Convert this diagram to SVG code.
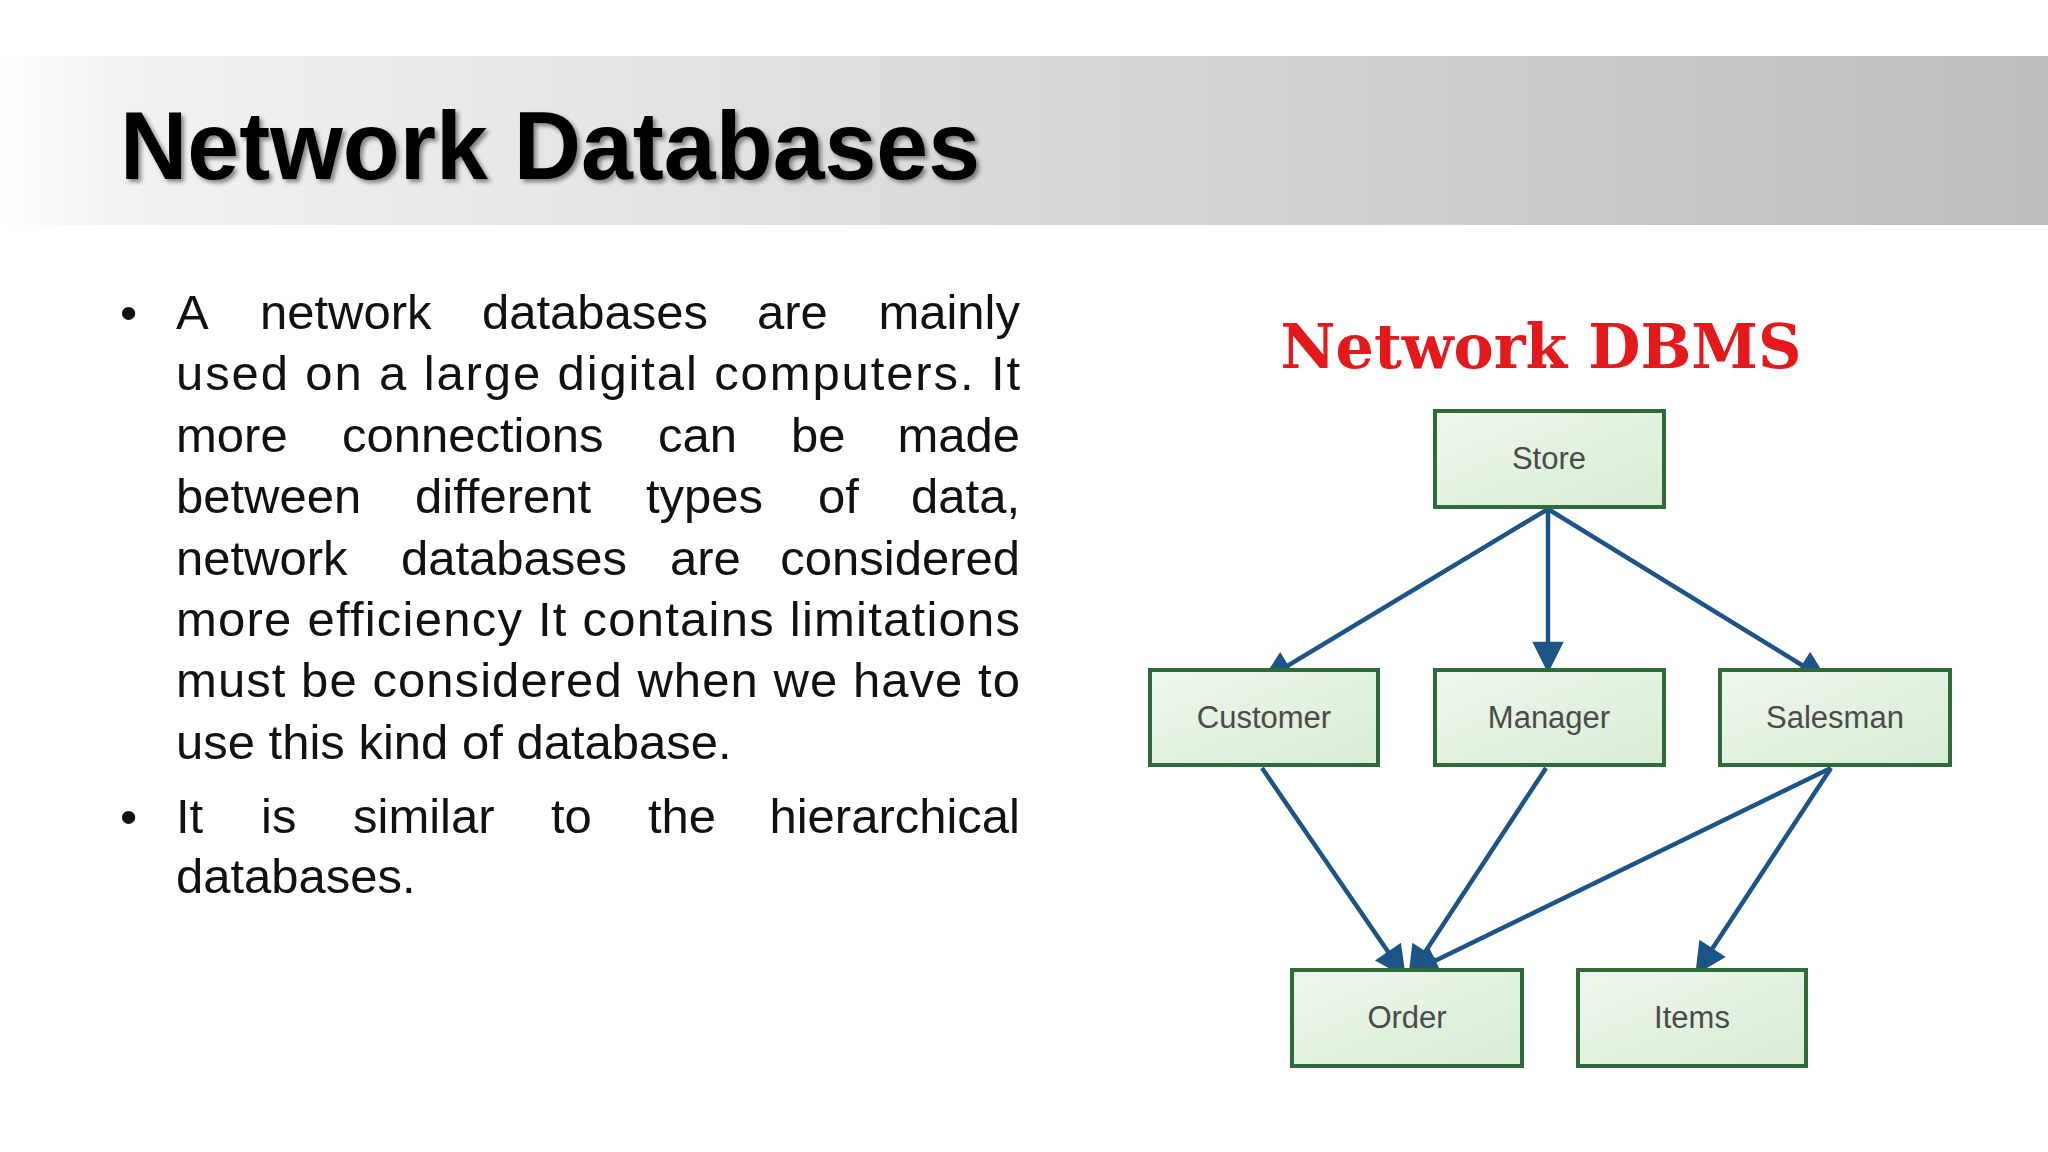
<svg xmlns="http://www.w3.org/2000/svg" width="2048" height="1152" viewBox="0 0 2048 1152">
<defs>
<linearGradient id="hdr" x1="0" y1="0" x2="1" y2="0">
<stop offset="0" stop-color="#ffffff"/><stop offset="0.06" stop-color="#f2f2f2"/><stop offset="1" stop-color="#bdbdbd"/>
</linearGradient>
<linearGradient id="box" x1="0" y1="0" x2="1" y2="1">
<stop offset="0" stop-color="#eef7ec"/><stop offset="1" stop-color="#d8ecd4"/>
</linearGradient>
<filter id="sh" x="-5%" y="-20%" width="110%" height="140%"><feDropShadow dx="3" dy="3" stdDeviation="2" flood-color="#000" flood-opacity="0.45"/></filter>
<marker id="ah" viewBox="0 0 10 10" refX="9" refY="5" markerWidth="8" markerHeight="7" markerUnits="strokeWidth" orient="auto"><path d="M0,0 L10,5 L0,10 z" fill="#1d5488"/></marker>
<style>
.body{font-family:"Liberation Sans",Arial,sans-serif;font-size:49px;fill:#111}
.lbl{font-family:"Liberation Sans",Arial,sans-serif;font-size:31px;fill:#4a4a4a;text-anchor:middle}
.bx{fill:url(#box);stroke:#2e6a3a;stroke-width:4}
.cn{stroke:#1d5488;stroke-width:4.5;fill:none;marker-end:url(#ah)}
</style>
</defs>
<rect x="0" y="0" width="2048" height="1152" fill="#fff"/>
<rect x="0" y="56" width="2048" height="169" fill="url(#hdr)"/>
<text x="120" y="179" font-family="Liberation Sans,Arial,sans-serif" font-weight="bold" font-size="96" textLength="860" lengthAdjust="spacingAndGlyphs" filter="url(#sh)">Network Databases</text>

<g class="body">
<text x="120" y="329">•</text>
<text x="176" y="329">A</text><text x="260" y="329">network</text><text x="482" y="329">databases</text><text x="757" y="329">are</text><text x="1020" y="329" text-anchor="end">mainly</text>
<text x="176" y="390" textLength="844" lengthAdjust="spacing">used on a large digital computers. It</text>
<text x="176" y="452">more</text><text x="342" y="452">connections</text><text x="658" y="452">can</text><text x="791" y="452">be</text><text x="1020" y="452" text-anchor="end">made</text>
<text x="176" y="513">between</text><text x="415" y="513">different</text><text x="646" y="513">types</text><text x="818" y="513">of</text><text x="1020" y="513" text-anchor="end">data,</text>
<text x="176" y="575">network</text><text x="401" y="575">databases</text><text x="670" y="575">are</text><text x="1020" y="575" text-anchor="end">considered</text>
<text x="176" y="636" textLength="844" lengthAdjust="spacing">more efficiency It contains limitations</text>
<text x="176" y="697" textLength="844" lengthAdjust="spacing">must be considered when we have to</text>
<text x="176" y="759">use this kind of database.</text>
<text x="120" y="833">•</text>
<text x="176" y="833">It</text><text x="261" y="833">is</text><text x="353" y="833">similar</text><text x="551" y="833">to</text><text x="648" y="833">the</text><text x="1020" y="833" text-anchor="end">hierarchical</text>
<text x="176" y="893">databases.</text>
</g>

<text x="1541" y="368" text-anchor="middle" font-family="DejaVu Serif,serif" font-weight="bold" font-size="62" fill="#e3191c" textLength="521" lengthAdjust="spacingAndGlyphs">Network DBMS</text>

<g id="connectors">
<line class="cn" x1="1548" y1="509" x2="1264" y2="680"/>
<line class="cn" x1="1548" y1="509" x2="1548" y2="670"/>
<line class="cn" x1="1548" y1="509" x2="1826" y2="680"/>
<line class="cn" x1="1262" y1="768" x2="1404" y2="975"/>
<line class="cn" x1="1546" y1="768" x2="1410" y2="975"/>
<line class="cn" x1="1831" y1="768" x2="1410" y2="973"/>
<line class="cn" x1="1831" y1="768" x2="1697" y2="972"/>
</g>

<g id="store"><rect class="bx" x="1435" y="411" width="229" height="96"/><text class="lbl" x="1549" y="469">Store</text></g>
<g id="customer"><rect class="bx" x="1150" y="670" width="228" height="95"/><text class="lbl" x="1264" y="728">Customer</text></g>
<g id="manager"><rect class="bx" x="1435" y="670" width="229" height="95"/><text class="lbl" x="1549" y="728">Manager</text></g>
<g id="salesman"><rect class="bx" x="1720" y="670" width="230" height="95"/><text class="lbl" x="1835" y="728">Salesman</text></g>
<g id="order"><rect class="bx" x="1292" y="970" width="230" height="96"/><text class="lbl" x="1407" y="1028">Order</text></g>
<g id="items"><rect class="bx" x="1578" y="970" width="228" height="96"/><text class="lbl" x="1692" y="1028">Items</text></g>
</svg>
